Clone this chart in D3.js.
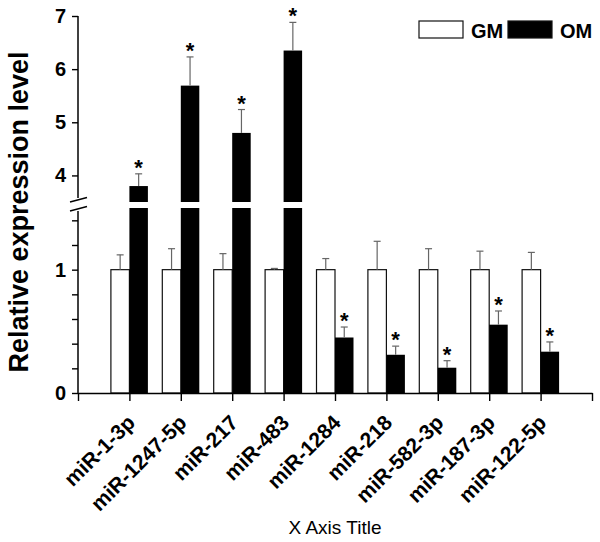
<!DOCTYPE html>
<html>
<head>
<meta charset="utf-8">
<script src="https://cdn.jsdelivr.net/npm/d3@7"></script>
<style>
  body { margin: 0; background: #fff; }
  svg { display: block; font-family: "Liberation Sans", Arial, sans-serif; }
</style>
</head>
<body>
<svg width="600" height="542"></svg>
<script>
// data
const categories = ["miR-1-3p", "miR-1247-5p", "miR-217", "miR-483", "miR-1284",
                    "miR-218", "miR-582-3p", "miR-187-3p", "miR-122-5p"];
const gmValues = [1, 1, 1, 1, 1, 1, 1, 1, 1];
const gmErrors = [0.12, 0.17, 0.13, 0.01, 0.09, 0.23, 0.17, 0.15, 0.14];
const omValues = [3.80, 5.69, 4.80, 6.35, 0.45, 0.31, 0.205, 0.554, 0.335];
const omErrors = [0.23, 0.54, 0.44, 0.53, 0.085, 0.07, 0.057, 0.111, 0.079];
const lowTicks = [0, 0.2, 0.4, 0.6, 0.8, 1, 1.2, 1.4];
const highTicks = [4, 5, 6, 7];

const svg = d3.select("svg");
const font = 20;

// scales (broken y axis: two segments)
const x = d3.scaleLinear().domain([0, categories.length + 1]).range([78, 592]);
const yLow = d3.scaleLinear().domain([0, 1.5]).range([393, 208]);
const yHigh = d3.scaleLinear().domain([3.5, 7]).range([202, 16]);
const y = v => v <= 1.5 ? yLow(v) : yHigh(v);
const barW = 18.5;

// bars
categories.forEach((c, i) => {
    const cx = x(i + 1);
    // GM (white)
    svg.append("rect")
        .attr("x", cx - barW).attr("y", y(gmValues[i]))
        .attr("width", barW).attr("height", yLow(0) - y(gmValues[i]))
        .attr("fill", "#fff").attr("stroke", "#111").attr("stroke-width", 1.2);
    // OM (black), split across the break if needed
    const v = omValues[i];
    if (v <= 1.5) {
        svg.append("rect")
            .attr("x", cx).attr("y", yLow(v))
            .attr("width", barW).attr("height", yLow(0) - yLow(v))
            .attr("fill", "#000");
    } else {
        svg.append("rect")
            .attr("x", cx).attr("y", yLow(1.5))
            .attr("width", barW).attr("height", yLow(0) - yLow(1.5))
            .attr("fill", "#000");
        svg.append("rect")
            .attr("x", cx).attr("y", yHigh(v))
            .attr("width", barW).attr("height", yHigh(3.5) - yHigh(v))
            .attr("fill", "#000");
    }
});

// error bars
function errBar(cx, v, e) {
    const top = y(v + e);
    svg.append("line").attr("x1", cx).attr("x2", cx)
        .attr("y1", y(v)).attr("y2", top)
        .attr("stroke", "#666").attr("stroke-width", 1.2);
    svg.append("line").attr("x1", cx - 3.5).attr("x2", cx + 3.5)
        .attr("y1", top).attr("y2", top)
        .attr("stroke", "#666").attr("stroke-width", 1.2);
}
categories.forEach((c, i) => {
    const cx = x(i + 1);
    errBar(cx - barW / 2, gmValues[i], gmErrors[i]);
    errBar(cx + barW / 2, omValues[i], omErrors[i]);
    // significance star
    svg.append("text")
        .attr("x", cx + barW / 2).attr("y", y(omValues[i] + omErrors[i]) + 1)
        .attr("text-anchor", "middle")
        .attr("font-size", 22).attr("font-weight", "bold")
        .text("*");
});

// y axes
const ax = x(0);
const gLow = svg.append("g").attr("transform", `translate(${ax},0)`)
    .call(d3.axisLeft(yLow).tickValues(lowTicks).tickSize(6).tickPadding(6)
        .tickFormat(d => (d === 0 || d === 1) ? d : ""));
const gHigh = svg.append("g").attr("transform", `translate(${ax},0)`)
    .call(d3.axisLeft(yHigh).tickValues(highTicks).tickSize(6).tickPadding(6)
        .tickFormat(d3.format("d")));
[gLow, gHigh].forEach(g => {
    g.select(".domain").remove();
    g.selectAll("line").attr("stroke", "#000").attr("stroke-width", 1.4);
    g.selectAll("text").attr("font-size", font).attr("font-weight", "bold")
        .attr("fill", "#000").attr("font-family", "Liberation Sans, Arial, sans-serif");
});
svg.append("line").attr("x1", ax).attr("x2", ax)
    .attr("y1", yHigh(7)).attr("y2", yHigh(3.5) - 4)
    .attr("stroke", "#000").attr("stroke-width", 1.5);
svg.append("line").attr("x1", ax).attr("x2", ax)
    .attr("y1", yLow(1.5) + 3).attr("y2", yLow(0))
    .attr("stroke", "#000").attr("stroke-width", 1.5);
// break marks
[yHigh(3.5) + 0, yLow(1.5) + 3].forEach(yy => {
    svg.append("line")
        .attr("x1", ax - 8).attr("y1", yy)
        .attr("x2", ax + 9).attr("y2", yy - 4.5)
        .attr("stroke", "#000").attr("stroke-width", 1.4);
});

// x axis
const gx = svg.append("g").attr("transform", `translate(0,${yLow(0)})`)
    .call(d3.axisBottom(x).tickValues(d3.range(0, categories.length + 2))
        .tickSize(8).tickSizeOuter(0).tickFormat(""));
gx.select(".domain").attr("stroke", "#000").attr("stroke-width", 1.5);
gx.selectAll("line").attr("stroke", "#000").attr("stroke-width", 1.4);

// category labels
svg.selectAll(".cat")
    .data(categories)
    .enter()
    .append("text")
    .attr("class", "cat")
    .attr("transform", (d, i) => `translate(${x(i + 1) + 7},${yLow(0) + 31}) rotate(-45)`)
    .attr("text-anchor", "end")
    .attr("font-size", 21).attr("font-weight", "bold")
    .text(d => d);

// axis titles
svg.append("text")
    .attr("transform", "translate(28,212) rotate(-90)")
    .attr("text-anchor", "middle")
    .attr("font-size", 27).attr("font-weight", "bold")
    .text("Relative expression level");
svg.append("text")
    .attr("x", 335).attr("y", 534)
    .attr("text-anchor", "middle")
    .attr("font-size", 19)
    .text("X Axis Title");

// legend
const legend = [["GM", "#fff"], ["OM", "#000"]];
const legX = [419, 508];
legend.forEach((d, i) => {
    svg.append("rect")
        .attr("x", legX[i]).attr("y", 21).attr("width", 44).attr("height", 17)
        .attr("fill", d[1]).attr("stroke", "#111").attr("stroke-width", 1.2);
    svg.append("text")
        .attr("x", legX[i] + 52).attr("y", 37.5)
        .attr("font-size", font).attr("font-weight", "bold")
        .text(d[0]);
});
</script>
</body>
</html>
